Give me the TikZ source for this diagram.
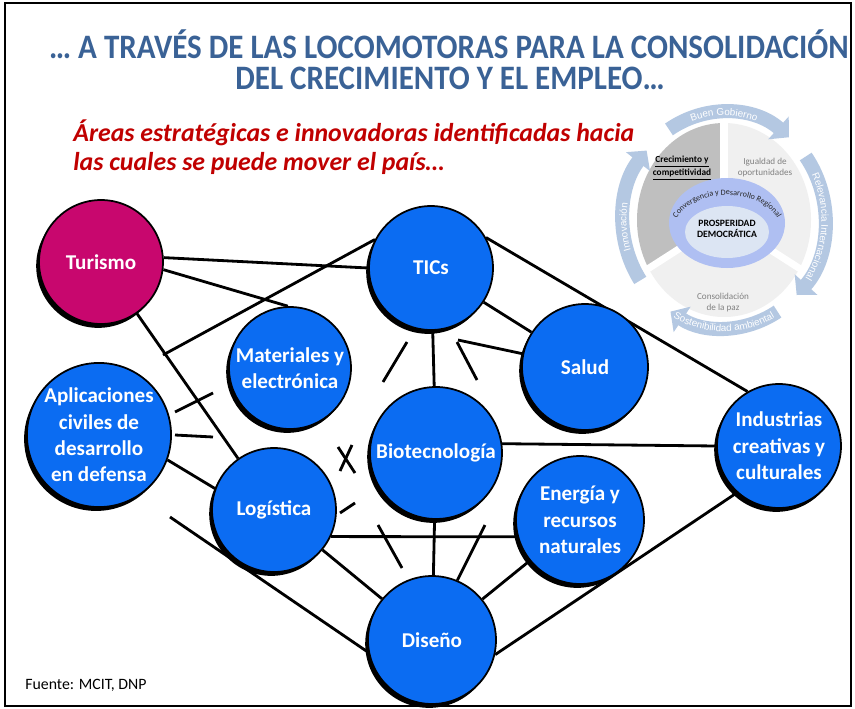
\documentclass[tikz,border=0pt]{standalone}
\usepackage{fontspec}
\setmainfont{Carlito}
\newfontfamily\ringfont{Liberation Sans}
\usepackage{graphicx}
\usetikzlibrary{shadows,backgrounds,decorations.text,arrows.meta}

\definecolor{areablue}{HTML}{0B6CF2}
\definecolor{turpink}{HTML}{C8076E}
\definecolor{titleblue}{HTML}{3A6296}
\definecolor{subred}{HTML}{C00000}
\definecolor{ringblue}{HTML}{B4C8E2}
\definecolor{sectgrey}{HTML}{BFBFBF}
\definecolor{sectlight}{HTML}{F0F0F0}
\definecolor{convblue}{HTML}{AFBFF2}
\definecolor{coreblue}{HTML}{DCE5F3}

\tikzset{
  area/.style={circle, draw=black, line width=1pt, fill=areablue, text=white,
    font=\fontsize{12}{15}\selectfont\bfseries, align=center, inner sep=0pt,
    drop shadow={shadow xshift=-1.6pt, shadow yshift=-2.2pt, opacity=1, fill=black}},
  link/.style={line width=1.6pt, black},
  ringarrow/.style={ringblue, line width=8pt, -{Triangle[width=17pt,length=8pt]}},
  ringlabel/.style={decorate, decoration={text along path, text align=center,
    text color=white, text={|\ringfont\fontsize{5.6}{6}\selectfont|#1}}},
  sectlabel/.style={font=\fontsize{5.2}{6.2}\selectfont, align=center, inner sep=0pt}
}

\begin{document}
\begin{tikzpicture}[x=0.02cm, y=0.02cm]
\useasboundingbox (0,0) rectangle (855,708);
\draw[line width=1.6pt] (5,2) rectangle (851,705);

% areas
\node[area, fill=turpink, minimum size=2.48cm] (tur) at (101,446) {Turismo};
\node[area, minimum size=2.48cm] (tic) at (431,440) {TICs};
\node[area, minimum size=2.44cm] (mat) at (290,340) {Materiales y\\electrónica};
\node[area, minimum size=2.88cm] (apl) at (99,273) {Aplicaciones\\civiles de\\desarrollo\\en defensa};
\node[area, minimum size=2.48cm] (log) at (274,198) {Logística};
\node[area, minimum size=2.64cm] (bio) at (436,255) {Biotecnología};
\node[area, minimum size=2.52cm] (sal) at (585,341) {Salud};
\node[area, minimum size=2.56cm] (ene) at (580,188) {Energía y\\recursos\\naturales};
\node[area, minimum size=2.48cm] (ind) at (779,262) {Industrias\\creativas y\\culturales};
\node[area, minimum size=2.56cm] (dis) at (432,68) {Diseño};

\foreach \n/\x/\y in {q1/163/353, q2/175/296, q3/213/315, q4/175/273, q5/213/271,
    q6/170/191, q7/407/366, q8/383/326, q9/457/366, q10/477/328, q11/458/368,
    q12/378/183, q13/402/140, q14/485/183, q15/340/195, q16/355/205,
    q17/338/261, q18/355/235, q19/352/263, q20/340/237}
  \coordinate (\n) at (\x,\y);

\begin{pgfonlayer}{background}
\draw[link] (tur.4) -- (tic.180);
\draw[link] (tur.-7) -- (mat.92);
\draw[link] (tur) -- (log);
\draw[link] (q1) -- (tic.153);
\draw[link] (q2) -- (q3);
\draw[link] (q4) -- (q5);
\draw[link] (apl.-20) -- (log.160);
\draw[link] (q6) -- (dis.191);
\draw[link] (q7) -- (q8);
\draw[link] (tic) -- (bio);
\draw[link] (q9) -- (q10);
\draw[link] (q11) -- (sal.168);
\draw[link] (tic.-33) -- (sal.147);
\draw[link] (tic.29) -- (ind.120);
\draw[link] (bio.8) -- (ind.180);
\draw[link] (log.-25) -- (ene.195);
\draw[link] (q12) -- (q13);
\draw[link] (bio) -- (dis);
\draw[link] (q14) -- (dis.67);
\draw[link] (log) -- (dis);
\draw[link] (dis) -- (ene);
\draw[link] (dis.-13) -- (ind.228);
\draw[link] (q15) -- (q16);
\draw[link] (q17) -- (q18);
\draw[link] (q19) -- (q20);
\end{pgfonlayer}

% prosperidad democratica
\begin{scope}[shift={(724,488)}]
  \fill[white] (0,0) ellipse [x radius=112, y radius=119];
  \fill[sectgrey] (0,0) -- ({87*cos(90)},{97*sin(90)}) arc[start angle=90, end angle=210, x radius=87, y radius=97] -- cycle;
  \fill[sectlight] (0,0) -- ({87*cos(210)},{97*sin(210)}) arc[start angle=210, end angle=330, x radius=87, y radius=97] -- cycle;
  \fill[sectlight] (0,0) -- ({87*cos(-30)},{97*sin(-30)}) arc[start angle=-30, end angle=90, x radius=87, y radius=97] -- cycle;
  \foreach \a in {90,210,330}
    \draw[white, line width=4pt] (0,0) -- ({90*cos(\a)},{100*sin(\a)});
  \fill[convblue] (3,-3) ellipse [x radius=58, y radius=45];
  \fill[coreblue] (3,-12) ellipse [x radius=42, y radius=26];

  \draw[ringarrow] ({101*cos(123)},{108*sin(123)}) arc[start angle=123, end angle=50, x radius=101, y radius=108];
  \draw[ringarrow] ({101*cos(36)},{108*sin(36)}) arc[start angle=36, end angle=-44, x radius=101, y radius=108];
  \draw[ringarrow] ({101*cos(-58)},{108*sin(-58)}) arc[start angle=-58, end angle=-122, x radius=101, y radius=108];
  \draw[ringarrow] ({101*cos(214)},{108*sin(214)}) arc[start angle=214, end angle=140, x radius=101, y radius=108];

  \path[ringlabel={Buen Gobierno}] ({97.5*cos(122)},{104.5*sin(122)}) arc[start angle=122, end angle=58, x radius=97.5, y radius=104.5];
  \path[ringlabel={Relevancia Internacional}] ({97.5*cos(34)},{104.5*sin(34)}) arc[start angle=34, end angle=-42, x radius=97.5, y radius=104.5];
  \path[ringlabel={Sostenibilidad ambiental}] ({104.5*cos(235)},{111.5*sin(235)}) arc[start angle=235, end angle=305, x radius=104.5, y radius=111.5];
  \path[ringlabel={Innovación}] ({97.5*cos(212)},{104.5*sin(212)}) arc[start angle=212, end angle=156, x radius=97.5, y radius=104.5];

  \path[decorate, decoration={text along path, text align=center, text color=black!85,
    text={|\fontsize{4.6}{5}\selectfont|Convergencia y Desarrollo Regional}}]
    ({3+54*cos(172)},{-12+37*sin(172)}) arc[start angle=172, end angle=8, x radius=54, y radius=37];

  \node[sectlabel, font=\fontsize{5.5}{6.6}\selectfont\bfseries] (pros) at (3,-9) {PROSPERIDAD\\DEMOCRÁTICA};
  \node[sectlabel, font=\fontsize{5.3}{6.4}\selectfont\bfseries] (crec) at (-42,52) {\underline{Crecimiento y}\\\underline{competitividad}};
  \node[sectlabel, text=black!50] (igual) at (41,52) {Igualdad de\\oportunidades};
  \node[sectlabel, text=black!50] (paz) at (-1,-83) {Consolidación\\de la paz};
\end{scope}

% titulos
\node[text=titleblue, font=\fontsize{19.5}{22}\selectfont\bfseries] (title1) at (449,664)
  {\scalebox{0.905}[1]{… A TRAVÉS DE LAS LOCOMOTORAS PARA LA CONSOLIDACIÓN}};
\node[text=titleblue, font=\fontsize{19.5}{22}\selectfont\bfseries] (title2) at (450,630)
  {\scalebox{0.905}[1]{DEL CRECIMIENTO Y EL EMPLEO…}};
\node[anchor=west, text=subred, font=\fontsize{14.7}{17}\selectfont\bfseries\itshape, inner sep=0pt] (sub1) at (73,575)
  {Áreas estratégicas e innovadoras identificadas hacia};
\node[anchor=west, text=subred, font=\fontsize{14.7}{17}\selectfont\bfseries\itshape, inner sep=0pt] (sub2) at (73,545)
  {las cuales se puede mover el país…};
\node[anchor=west, font=\fontsize{9}{11}\selectfont, inner sep=0pt] (fuente) at (25,23) {Fuente: MCIT, DNP};
\end{tikzpicture}
\end{document}
